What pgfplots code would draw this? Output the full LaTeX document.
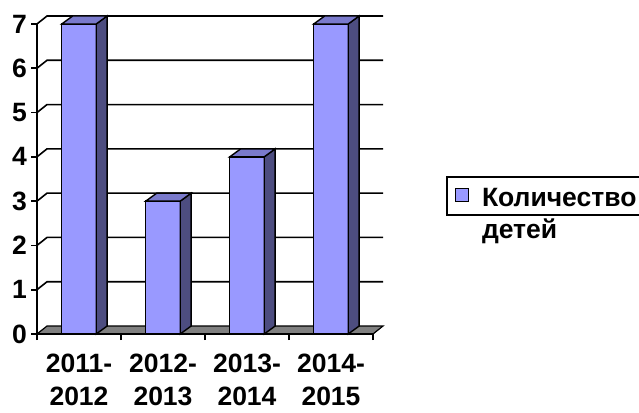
\documentclass[border=0pt]{standalone}
\usepackage{fontspec}
\setmainfont{Liberation Sans}[BoldFont={Liberation Sans Bold}]
\usepackage{pgfplots}
\pgfplotsset{compat=1.18}
\definecolor{barfront}{HTML}{9999FF}
\definecolor{bartop}{HTML}{7A7ACC}
\definecolor{barside}{HTML}{4D4D80}
\definecolor{floorgray}{HTML}{808080}
\begin{document}
\begin{tikzpicture}
\path[use as bounding box] (0pt,0pt) rectangle (639pt,412pt);
\begin{axis}[
  at={(37pt,78pt)}, anchor=south west,
  x=84pt, y=44.29pt,
  xmin=-0.5, xmax=3.65, ymin=0, ymax=7.25,
  clip=false,
  axis line style={draw=none},
  tick align=outside,
  tick pos=left,
  major tick length=6pt,
  tick style={draw=black, line width=1.6pt},
  /pgf/number format/assume math mode=true,
  ticklabel style={font=\fontsize{26.5}{33}\selectfont\bfseries},
  ytick={0,1,2,3,4,5,6,7},
  y tick label style={xshift=-0.5pt},
  xtick={-0.5,0.5,1.5,2.5,3.5},
  xticklabels={},
  x tick label style={align=center, yshift=-16pt},
  extra x ticks={0,1,2,3},
  extra x tick labels={{2011-\\2012},{2012-\\2013},{2013-\\2014},{2014-\\2015}},
  extra x tick style={tick style={draw=none}, major tick length=0pt},
  legend style={at={(axis cs:4.369,3.567)}, anchor=north west, draw=black,
    line width=1.6pt, inner xsep=8pt, inner ysep=5pt,
    font=\fontsize{26.5}{32}\selectfont\bfseries},
  legend cell align=left,
]
% back-wall and left-wall grid lines
\addplot[forget plot, black, line width=1.6pt] coordinates {(-0.5,1) (-0.381,1.18) (3.619,1.18)};
\addplot[forget plot, black, line width=1.6pt] coordinates {(-0.5,2) (-0.381,2.18) (3.619,2.18)};
\addplot[forget plot, black, line width=1.6pt] coordinates {(-0.5,3) (-0.381,3.18) (3.619,3.18)};
\addplot[forget plot, black, line width=1.6pt] coordinates {(-0.5,4) (-0.381,4.18) (3.619,4.18)};
\addplot[forget plot, black, line width=1.6pt] coordinates {(-0.5,5) (-0.381,5.18) (3.619,5.18)};
\addplot[forget plot, black, line width=1.6pt] coordinates {(-0.5,6) (-0.381,6.18) (3.619,6.18)};
\addplot[forget plot, black, line width=1.6pt] coordinates {(-0.5,7) (-0.381,7.18) (3.619,7.18)};
% floor
\addplot[forget plot, fill=floorgray, draw=black, line width=1.2pt] coordinates {(-0.5,0) (3.5,0) (3.619,0.18) (-0.381,0.18)} -- cycle;
% bars: front faces
\addplot[ybar, bar width=0.41, fill=barfront, draw=black, line width=1.4pt,
  legend image code/.code={\draw[fill=barfront, draw=black, line width=1.2pt] (0pt,-5.5pt) rectangle (13pt,7.5pt);}]
  coordinates {(0,7) (1,3) (2,4) (3,7)};
\addlegendentry{\begin{tabular}[t]{@{\hspace{11pt}}p{175pt}@{}}Количество\\детей\end{tabular}}
% bar sides
\addplot[forget plot, fill=barside, draw=black, line width=1.4pt] coordinates {(0.205,0) (0.335,0.18) (0.335,7.18) (0.205,7)} -- cycle;
\addplot[forget plot, fill=barside, draw=black, line width=1.4pt] coordinates {(1.205,0) (1.335,0.18) (1.335,3.18) (1.205,3)} -- cycle;
\addplot[forget plot, fill=barside, draw=black, line width=1.4pt] coordinates {(2.205,0) (2.335,0.18) (2.335,4.18) (2.205,4)} -- cycle;
\addplot[forget plot, fill=barside, draw=black, line width=1.4pt] coordinates {(3.205,0) (3.335,0.18) (3.335,7.18) (3.205,7)} -- cycle;
% bar tops
\addplot[forget plot, fill=bartop, draw=black, line width=1.4pt] coordinates {(-0.205,7) (0.205,7) (0.335,7.18) (-0.075,7.18)} -- cycle;
\addplot[forget plot, fill=bartop, draw=black, line width=1.4pt] coordinates {(0.795,3) (1.205,3) (1.335,3.18) (0.925,3.18)} -- cycle;
\addplot[forget plot, fill=bartop, draw=black, line width=1.4pt] coordinates {(1.795,4) (2.205,4) (2.335,4.18) (1.925,4.18)} -- cycle;
\addplot[forget plot, fill=bartop, draw=black, line width=1.4pt] coordinates {(2.795,7) (3.205,7) (3.335,7.18) (2.925,7.18)} -- cycle;
% front axis lines
\addplot[forget plot, black, line width=1.8pt] coordinates {(-0.5,7) (-0.5,0) (3.5,0)};
\end{axis}
\end{tikzpicture}
\end{document}
